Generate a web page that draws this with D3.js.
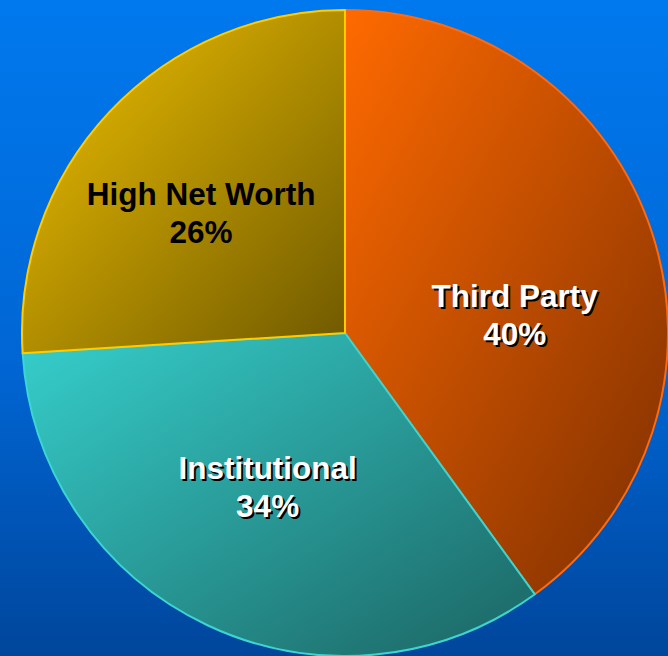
<!DOCTYPE html>
<html>
<head>
<meta charset="utf-8">
<script src="https://cdn.jsdelivr.net/npm/d3@7"></script>
<style>
  html, body { margin: 0; padding: 0; background: #0060d0; }
  svg { display: block; }
</style>
</head>
<body>
<svg id="chart" width="668" height="656"></svg>
<script>
// Client mix by segment (share of total, %)
const categories = ["Third Party", "Institutional", "High Net Worth"];
const shares = [40, 34, 26];
const shareLabels = ["40%", "34%", "26%"];

// Slice styling: light / dark ends of each gradient and the edge colour
const lightColors = ["#ff6a00", "#36cfcc", "#f4c400"];
const darkColors  = ["#7c2e00", "#1b6462", "#6e5800"];
const edgeColors  = ["#ff6a10", "#3cd6d2", "#ffcc00"];
const textColors  = ["#ffffff", "#ffffff", "#000000"];
const textShadow  = [true, true, false];
// Fine placement of labels relative to each slice centroid
const labelNudge = [[8, 35], [-5, 0], [-20, -4]];

const width = 668, height = 656;
const cx = 345, cy = 333, radius = 323;

const svg = d3.select("#chart");
const defs = svg.append("defs");

// Background: vertical blue gradient
const bg = defs.append("linearGradient")
  .attr("id", "bg").attr("x1", 0).attr("y1", 0).attr("x2", 0).attr("y2", 1);
bg.append("stop").attr("offset", "0%").attr("stop-color", "#0079ee");
bg.append("stop").attr("offset", "55%").attr("stop-color", "#0066d4");
bg.append("stop").attr("offset", "100%").attr("stop-color", "#00469c");
svg.append("rect").attr("width", width).attr("height", height).attr("fill", "url(#bg)");

// Diagonal shading for each slice
categories.forEach((c, i) => {
  const g = defs.append("linearGradient")
    .attr("id", "slice" + i)
    .attr("x1", 0).attr("y1", 0).attr("x2", 1).attr("y2", 1);
  g.append("stop").attr("offset", "0%").attr("stop-color", lightColors[i]);
  g.append("stop").attr("offset", "100%").attr("stop-color", darkColors[i]);
});

const data = categories.map((c, i) => ({ name: c, value: shares[i], label: shareLabels[i], i }));

const pie = d3.pie().sort(null).value(d => d.value).startAngle(0).endAngle(2 * Math.PI);
const arc = d3.arc().innerRadius(0).outerRadius(radius);
const labelArc = d3.arc().innerRadius(170).outerRadius(170);

const arcs = pie(data);
const g = svg.append("g").attr("transform", `translate(${cx},${cy})`);

g.selectAll("path.slice")
  .data(arcs)
  .join("path")
  .attr("class", "slice")
  .attr("d", arc)
  .attr("fill", d => `url(#slice${d.data.i})`)
  .attr("stroke", d => edgeColors[d.data.i])
  .attr("stroke-width", 2)
  .attr("stroke-linejoin", "round");

const labels = g.selectAll("g.label")
  .data(arcs)
  .join("g")
  .attr("class", "label")
  .attr("transform", d => {
    const [x, y] = labelArc.centroid(d);
    const [nx, ny] = labelNudge[d.data.i];
    return `translate(${x + nx},${y + ny})`;
  });

// Two-line label: segment name over its share; a black copy offset
// down-right gives the light labels their hard shadow.
function addLines(sel, fill, dx, dy) {
  sel.append("text")
    .attr("text-anchor", "middle")
    .attr("font-family", "'Liberation Sans', Arial, sans-serif")
    .attr("font-weight", "bold")
    .attr("font-size", 31.5)
    .attr("fill", fill)
    .attr("transform", `translate(${dx},${dy})`)
    .selectAll("tspan")
    .data(d => [d.data.name, d.data.label])
    .join("tspan")
    .attr("x", 0)
    .attr("y", (t, k) => k === 0 ? -8 : 30)
    .text(t => t);
}

labels.each(function(d) {
  const sel = d3.select(this);
  if (textShadow[d.data.i]) addLines(sel, "#000000", 2, 2);
  addLines(sel, textColors[d.data.i], 0, 0);
});
</script>
</body>
</html>
